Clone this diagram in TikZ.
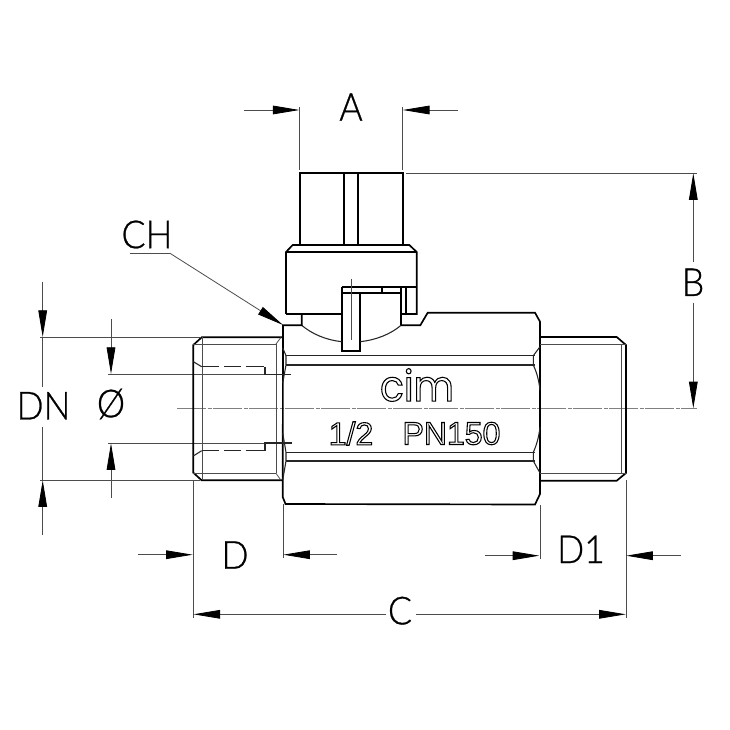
\documentclass[tikz,border=0pt]{standalone}
\usepackage{fontspec}
\usepackage{tikz}
\usetikzlibrary{arrows.meta}
\setmainfont{Liberation Sans}
\newfontfamily\dimfont[FakeStretch=0.92]{Lato Light}
\newfontfamily\logofont[FakeStretch=0.92]{Poppins}
\newcommand{\outlined}[1]{\special{pdf:code 1 Tr 0.8 w}#1\special{pdf:code 0 Tr}}
\newcommand{\firmed}[1]{\special{pdf:code 2 Tr 0.2 w}#1\special{pdf:code 0 Tr}}
\tikzset{
  px/.style={x=0.75pt,y=-0.75pt},
  heavy/.style={draw=black,line width=1.25pt,line join=miter},
  medium/.style={draw=black!85,line width=0.8pt},
  fine/.style={draw=black!70,line width=0.55pt},
  axisline/.style={draw=black!50,line width=0.6pt,dash pattern=on 22pt off 1pt on 3pt off 1pt},
  dimline/.style={draw=black!70,line width=0.6pt},
  tipped/.style={dimline,-{Triangle[length=20pt,width=6.5pt,black]}},
  dimlabel/.style={font=\dimfont\fontsize{29}{30}\selectfont,inner sep=0pt,text=black},
  marklabel/.style={font=\fontsize{24}{26}\selectfont,inner sep=0pt}
}
\begin{document}
\begin{tikzpicture}[px]
  \useasboundingbox (0,0) rectangle (730,730);
  \fill[white] (0,0) rectangle (730,730);
  % centre line and extension lines
  \draw[axisline] (177,408.5) -- (697,408.5);
  \draw[dimline] (299.7,107) -- (299.7,170);
  \draw[dimline] (402.7,107) -- (402.7,170);
  \draw[dimline] (405.7,173.3) -- (697,173.3);
  \draw[dimline] (40,337) -- (200,337);
  \draw[dimline] (40,480.3) -- (200,480.3);
  \draw[dimline] (108,374.3) -- (291,374.3);
  \draw[dimline] (108,443) -- (292,443);
  \draw[dimline] (193.3,480) -- (193.3,618);
  \draw[dimline] (283,504) -- (283,558);
  \draw[dimline] (540,505) -- (540,559);
  \draw[dimline] (626,480) -- (626,618);
  % handle
  \draw[heavy] (299.7,245) -- (299.7,173.3) -- (402.7,173.3) -- (402.7,245);
  \draw[heavy] (344.3,173.3) -- (344.3,245);
  \draw[heavy] (358.3,173.3) -- (358.3,245);
  \draw[heavy] (286,314) -- (286,252) -- (292.7,245) -- (409.3,245) -- (416.7,252) -- (416.7,314) -- (401,314);
  \draw[heavy] (286,252) -- (416.7,252);
  \draw[heavy] (286,314) -- (341.7,314);
  \draw[heavy] (341.7,286.7) -- (416.7,286.7);
  \draw[heavy] (341.7,292.7) -- (401,292.7);
  \draw[heavy] (381.7,286.7) -- (381.7,292.7);
  \draw[heavy] (401,286.7) -- (401,325.3);
  \draw[heavy] (405.7,286.7) -- (405.7,314);
  \draw[heavy] (341.7,286.7) -- (341.7,350.7) -- (360.3,350.7) -- (360.3,292.7);
  \draw[fine] (351,279) -- (351,340);
  \draw[medium] (301.7,325.3) .. controls (312,334) and (326,340) .. (341.7,341.7);
  \draw[medium] (360.3,341.7) .. controls (376,340) and (391,334) .. (401,325.3);
  % body
  \draw[heavy] (301.7,314) -- (301.7,325.3) -- (283,325.3) -- (282.7,497) -- (285.5,504) -- (535,504.5) -- (540,494) -- (540,321.7) -- (535,312.7) -- (427.7,312.7) -- (420.3,325.3) -- (401,325.3);
  \draw[medium] (286,355.7) -- (535,355.7);
  \draw[medium] (286,365) -- (535,365);
  \draw[medium] (286,452.3) -- (535,452.3);
  \draw[medium] (286,461) -- (535,461);
  \draw[medium] (540,346.7) -- (533.3,355.7) -- (533.3,365) .. controls (537,373) and (539,381) .. (540,390);
  \draw[medium] (540,427) .. controls (539,436) and (537,444) .. (533.3,452.3) -- (533.3,461) -- (540,473);
  \draw[medium] (282.7,348) -- (286,355.7) -- (286,365) -- (282.7,383);
  \draw[medium] (282.7,433) -- (286,452.3) -- (286,461) -- (282.7,480);
  % right end
  \draw[heavy] (540,337) -- (616.7,337) -- (626,345) -- (626,473) -- (616.7,480.7) -- (540,480.7);
  \draw[fine] (540,344.3) -- (626,344.3);
  \draw[fine] (540,473.3) -- (626,473.3);
  \draw[fine] (621,344.3) -- (621,473.3);
  % left end
  \draw[heavy] (282.7,337.3) -- (201.7,337.3) -- (193.3,345) -- (193.3,472.7) -- (201.7,480.3) -- (282.7,480.3);
  \draw[fine] (193.3,344) -- (276,344);
  \draw[fine] (193.3,473.3) -- (276,473.3);
  \draw[fine] (202.3,337.3) -- (202.3,480.3);
  \draw[fine] (276,344) -- (276,473.3);
  \draw[fine] (281,337.3) -- (276,344);
  \draw[fine] (281,480.3) -- (276,473.3);
  \draw[medium] (193.3,361.7) -- (201.7,366.7);
  \draw[medium] (193.3,456) -- (201.7,450.7);
  \draw[medium,dash pattern=on 13pt off 3.75pt] (201.7,366.7) -- (265,366.7);
  \draw[medium,dash pattern=on 13pt off 3.75pt] (201.7,450.7) -- (265,450.7);
  \draw[medium] (265,366.7) -- (265,374.3) -- (291,374.3);
  \draw[medium] (265,450.7) -- (265,443) -- (292,443);
  % dimension arrows
  \draw[tipped] (244,110) -- (299.5,110);
  \draw[tipped] (458,110) -- (402.9,110);
  \draw[tipped] (693.3,261.7) -- (693.3,173.3);
  \draw[tipped] (693.3,302.7) -- (693.3,408.3);
  \draw[tipped] (42.7,281.7) -- (42.7,337);
  \draw[dimline] (42.7,337) -- (42.7,387);
  \draw[dimline] (42.7,426.7) -- (42.7,480);
  \draw[tipped] (42.7,535) -- (42.7,480.3);
  \draw[tipped] (111,319) -- (111,374);
  \draw[tipped] (111,497.7) -- (111,443.3);
  \draw[tipped] (138,554.7) -- (192.7,554.7);
  \draw[tipped] (337,554.7) -- (283.3,554.7);
  \draw[tipped] (485,555.7) -- (539.3,555.7);
  \draw[tipped] (681,555.7) -- (626.2,555.7);
  \draw[tipped] (386,614.3) -- (193.5,614.3);
  \draw[tipped] (416,614.3) -- (625.8,614.3);
  \draw[dimline] (130,253.3) -- (170,253.3);
  \draw[tipped] (170,253.3) -- (283,325);
  % labels
  \node[dimlabel] (lblA) at (351,107) {\firmed{A}};
  \node[dimlabel] (lblB) at (693,282.3) {\firmed{B}};
  \node[dimlabel] (lblC) at (400,610.7) {\firmed{C}};
  \node[dimlabel] (lblCH) at (147,234.5) {\firmed{CH}};
  \node[dimlabel] (lblD) at (235,555) {\firmed{D}};
  \node[dimlabel] (lblDone) at (581,549.3) {\firmed{D1}};
  \node[dimlabel] (lblDN) at (43.5,405.8) {\firmed{DN}};
  \node[dimlabel] (lblO) at (111,404) {\firmed{Ø}};
  \node[marklabel,font=\logofont\fontsize{32}{34}\selectfont] (logo) at (417,385) {\outlined{cim}};
  \node[marklabel] (sizetxt) at (351,433.5) {\outlined{1/2}};
  \node[marklabel] (presstxt) at (451.5,433.5) {\outlined{PN150}};
\end{tikzpicture}
\end{document}
